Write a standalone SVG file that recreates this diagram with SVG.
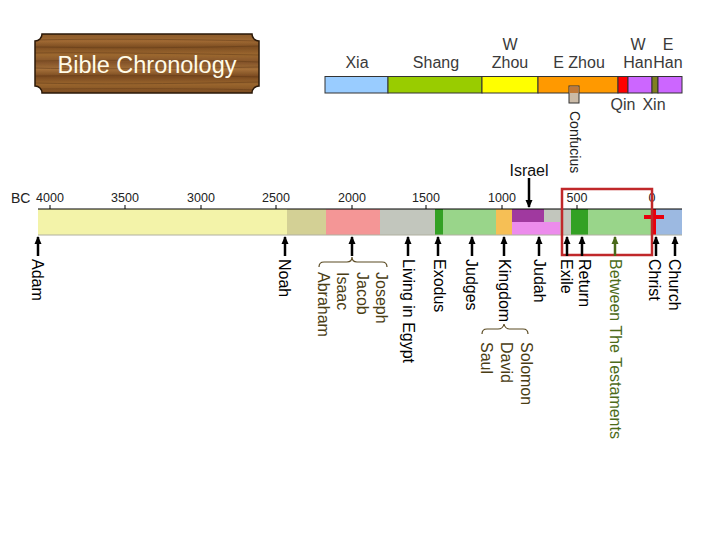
<svg xmlns="http://www.w3.org/2000/svg" width="720" height="540" viewBox="0 0 720 540">
<style>
text{font-family:"Liberation Sans",Arial,sans-serif;}
.top{font-size:16px;fill:#3a3a3a;text-anchor:middle;}
.ax{font-size:12.5px;fill:#222;text-anchor:middle;}
.lab{font-size:16px;fill:#000;}
.name{font-size:16px;fill:#4a3d14;}
.seg{stroke:none;}
.dyn{stroke:#333;stroke-width:1;}
.arr{stroke:#000;stroke-width:2.5;fill:none;marker-end:url(#ah);}
.brace{stroke:#5a4a22;stroke-width:1.2;fill:none;}
</style>
<defs>
<marker id="ah" viewBox="0 0 8 8" refX="7" refY="4" markerWidth="8" markerHeight="8" orient="auto" markerUnits="userSpaceOnUse"><path d="M0,0.5 L8,4 L0,7.5 z" fill="#000"/></marker>
<marker id="ahg" viewBox="0 0 8 8" refX="7" refY="4" markerWidth="8" markerHeight="8" orient="auto" markerUnits="userSpaceOnUse"><path d="M0,0.5 L8,4 L0,7.5 z" fill="#4a6a1a"/></marker>
<linearGradient id="wood" x1="0" y1="0" x2="0" y2="1">
<stop offset="0" stop-color="#8a5a2a"/>
<stop offset="0.12" stop-color="#a06a34"/>
<stop offset="0.22" stop-color="#7e4e22"/>
<stop offset="0.35" stop-color="#9c6830"/>
<stop offset="0.48" stop-color="#84542a"/>
<stop offset="0.6" stop-color="#a4703a"/>
<stop offset="0.72" stop-color="#7a4a20"/>
<stop offset="0.85" stop-color="#9a662e"/>
<stop offset="1" stop-color="#7c4c22"/>
</linearGradient>
<clipPath id="plaqueClip"><path d="M42,34 L252,34 A7 7 0 0 0 259,41 L259,86 A7 7 0 0 0 252,93 L42,93 A7 7 0 0 0 35,86 L35,41 A7 7 0 0 0 42,34 Z"/></clipPath>
</defs>
<rect width="720" height="540" fill="#fff"/>

<g id="title">
<path d="M42,34 L252,34 A7 7 0 0 0 259,41 L259,86 A7 7 0 0 0 252,93 L42,93 A7 7 0 0 0 35,86 L35,41 A7 7 0 0 0 42,34 Z" fill="url(#wood)"/>
<g clip-path="url(#plaqueClip)" stroke="#5e3816" stroke-width="0.8" opacity="0.6" fill="none">
<path d="M35,40 Q120,38 260,41"/><path d="M35,47 Q150,49 260,46"/><path d="M35,53 Q100,52 260,55"/>
<path d="M35,61 Q180,59 260,62"/><path d="M35,68 Q90,70 260,67"/><path d="M35,76 Q160,74 260,77"/>
<path d="M35,83 Q120,85 260,82"/><path d="M35,89 Q200,88 260,90"/>
</g>
<path d="M42,34 L252,34 A7 7 0 0 0 259,41 L259,86 A7 7 0 0 0 252,93 L42,93 A7 7 0 0 0 35,86 L35,41 A7 7 0 0 0 42,34 Z" fill="none" stroke="#2a1808" stroke-width="1.5"/>
<text x="147" y="73" font-size="23.5" fill="#fffbe8" text-anchor="middle">Bible Chronology</text>
</g>

<g id="dynasties">
<rect class="dyn" x="325" y="76.5" width="63" height="16.5" fill="#99ccff"/>
<rect class="dyn" x="388" y="76.5" width="94" height="16.5" fill="#99cc00"/>
<rect class="dyn" x="482" y="76.5" width="56" height="16.5" fill="#ffff00"/>
<rect class="dyn" x="538" y="76.5" width="80" height="16.5" fill="#ff9900"/>
<rect class="dyn" x="618" y="76.5" width="10" height="16.5" fill="#ff0000"/>
<rect class="dyn" x="628" y="76.5" width="24" height="16.5" fill="#cc66ff"/>
<rect class="dyn" x="652" y="76.5" width="6" height="16.5" fill="#808020"/>
<rect class="dyn" x="658" y="76.5" width="24" height="16.5" fill="#cc66ff"/>
<text class="top" x="357" y="68">Xia</text>
<text class="top" x="436" y="68">Shang</text>
<text class="top" x="510" y="50">W</text>
<text class="top" x="510" y="68">Zhou</text>
<text class="top" x="579" y="68">E Zhou</text>
<text class="top" x="638" y="50">W</text>
<text class="top" x="668" y="50">E</text>
<text class="top" x="638" y="68">Han</text>
<text class="top" x="668" y="68">Han</text>
<text class="top" x="623" y="110">Qin</text>
<text class="top" x="654" y="110">Xin</text>
</g>

<g id="confucius">
<rect x="569" y="86" width="10" height="17" fill="#cbbba8" stroke="#333" stroke-width="1"/>
<rect x="569.5" y="86.5" width="9" height="6.5" fill="#c07838"/>
<text transform="translate(570,111) rotate(90)" font-size="14" fill="#222">Confucius</text>
</g>

<g id="timeline">
<rect class="seg" x="38" y="209" width="249" height="26" fill="#f3f3a9"/>
<rect class="seg" x="287" y="209" width="39" height="26" fill="#d3d095"/>
<rect class="seg" x="326" y="209" width="54" height="26" fill="#f49696"/>
<rect class="seg" x="380" y="209" width="55" height="26" fill="#c2c6bd"/>
<rect class="seg" x="435" y="209" width="8" height="26" fill="#33a124"/>
<rect class="seg" x="443" y="209" width="53" height="26" fill="#99d58a"/>
<rect class="seg" x="496" y="209" width="16" height="26" fill="#f6bf55"/>
<rect class="seg" x="512" y="209" width="32" height="13" fill="#a0399f"/>
<rect class="seg" x="544" y="209" width="16" height="13" fill="#c2c6bd"/>
<rect class="seg" x="512" y="222" width="48" height="13" fill="#ec8cec"/>
<rect class="seg" x="560" y="209" width="11" height="26" fill="#c2c6bd"/>
<rect class="seg" x="571" y="209" width="17" height="26" fill="#33a124"/>
<rect class="seg" x="588" y="209" width="64" height="26" fill="#99d58a"/>
<rect class="seg" x="652" y="209" width="4" height="26" fill="#e8000c"/>
<rect class="seg" x="656" y="209" width="26" height="26" fill="#9cb9e1"/>
<line x1="38" y1="235" x2="682" y2="235" stroke="#b0b0a0" stroke-width="1"/>
<line x1="38" y1="209" x2="682" y2="209" stroke="#000" stroke-width="1.2"/>
<g stroke="#000" stroke-width="1">
<line x1="50" y1="205" x2="50" y2="209"/><line x1="125" y1="205" x2="125" y2="209"/>
<line x1="201" y1="205" x2="201" y2="209"/><line x1="276" y1="205" x2="276" y2="209"/>
<line x1="352" y1="205" x2="352" y2="209"/><line x1="426" y1="205" x2="426" y2="209"/>
<line x1="502" y1="205" x2="502" y2="209"/><line x1="577" y1="205" x2="577" y2="209"/>
<line x1="652" y1="205" x2="652" y2="209"/>
</g>
<text x="11" y="203" font-size="14" fill="#222">BC</text>
<text class="ax" x="50" y="202">4000</text>
<text class="ax" x="125" y="202">3500</text>
<text class="ax" x="201" y="202">3000</text>
<text class="ax" x="276" y="202">2500</text>
<text class="ax" x="352" y="202">2000</text>
<text class="ax" x="426" y="202">1500</text>
<text class="ax" x="502" y="202">1000</text>
<text class="ax" x="577" y="202">500</text>
<text class="ax" x="652" y="202">0</text>
<rect x="644" y="215" width="20" height="4" fill="#e8000c"/>
<rect x="562" y="189" width="90" height="66" fill="none" stroke="#c0282a" stroke-width="2.5"/>
</g>

<g id="connectors">
<line class="arr" x1="38" y1="256" x2="38" y2="237"/>
<line class="arr" x1="285" y1="256" x2="285" y2="237"/>
<line class="arr" x1="352" y1="256" x2="352" y2="237"/>
<line class="arr" x1="408" y1="256" x2="408" y2="237"/>
<line class="arr" x1="438" y1="256" x2="438" y2="237"/>
<line class="arr" x1="472" y1="256" x2="472" y2="237"/>
<line class="arr" x1="504" y1="256" x2="504" y2="237"/>
<line class="arr" x1="539" y1="256" x2="539" y2="237"/>
<line class="arr" x1="567" y1="256" x2="567" y2="237"/>
<line class="arr" x1="582" y1="256" x2="582" y2="237"/>
<line x1="615" y1="256" x2="615" y2="237" stroke="#4a6a1a" stroke-width="2.5" marker-end="url(#ahg)"/>
<line class="arr" x1="656" y1="256" x2="656" y2="237"/>
<line class="arr" x1="675" y1="256" x2="675" y2="237"/>
<line class="arr" x1="529" y1="178" x2="529" y2="207"/>
<path class="brace" d="M319,267 Q319,262 324,262 L347,262 Q352,262 352,257 Q352,262 357,262 L382,262 Q387,262 387,267"/>
<path class="brace" d="M482,334 Q482,329 487,329 L498,329 Q503,329 504,324 Q505,329 510,329 L523,329 Q528,329 528,334"/>
</g>

<g id="israel"><text x="529" y="176" font-size="16" fill="#111" text-anchor="middle">Israel</text></g>

<g id="labels">
<text class="lab" transform="translate(32,259) rotate(90)">Adam</text>
<text class="lab" transform="translate(279,259) rotate(90)">Noah</text>
<text class="lab" transform="translate(403,259) rotate(90)">Living in Egypt</text>
<text class="lab" transform="translate(433.5,259) rotate(90)">Exodus</text>
<text class="lab" transform="translate(466,259) rotate(90)">Judges</text>
<text class="lab" transform="translate(498.5,259) rotate(90)">Kingdom</text>
<text class="lab" transform="translate(533.5,259) rotate(90)">Judah</text>
<text class="lab" transform="translate(561,259) rotate(90)">Exile</text>
<text class="lab" transform="translate(578.5,259) rotate(90)">Return</text>
<text class="lab" transform="translate(609.5,259) rotate(90)" fill="#4d6b1a" style="fill:#4d6b1a">Between The Testaments</text>
<text class="lab" transform="translate(648.5,259) rotate(90)">Christ</text>
<text class="lab" transform="translate(668.5,259) rotate(90)">Church</text>
</g>

<g id="patriarchs">
<text class="name" transform="translate(375.5,272) rotate(90)">Joseph</text>
<text class="name" transform="translate(357,272) rotate(90)">Jacob</text>
<text class="name" transform="translate(337,272) rotate(90)">Isaac</text>
<text class="name" transform="translate(317.5,272) rotate(90)">Abraham</text>
</g>
<g id="kings">
<text class="name" transform="translate(520.5,342) rotate(90)">Solomon</text>
<text class="name" transform="translate(500.5,342) rotate(90)">David</text>
<text class="name" transform="translate(480.5,342) rotate(90)">Saul</text>
</g>
</svg>
